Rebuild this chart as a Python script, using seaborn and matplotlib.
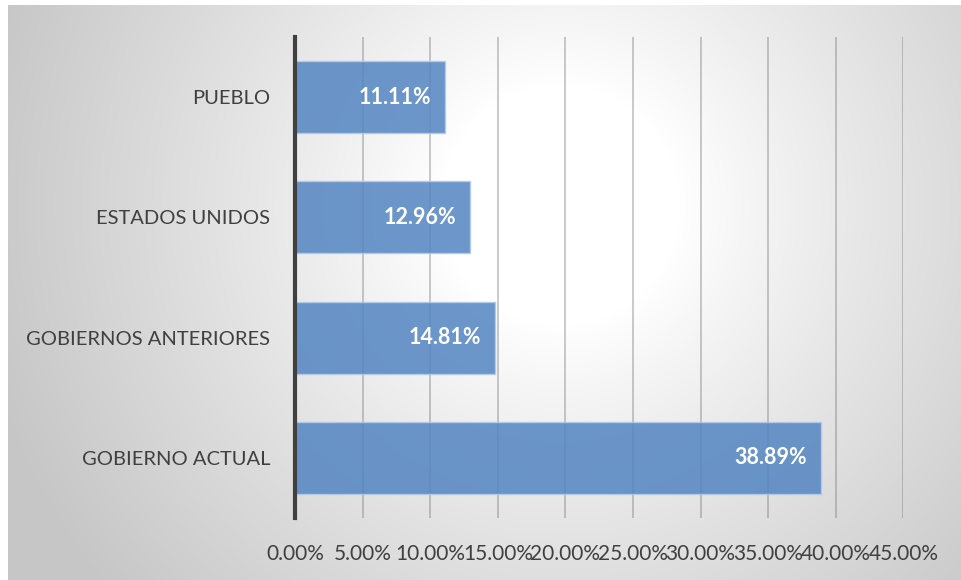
import numpy as np
import pandas as pd
import matplotlib
matplotlib.use("Agg")
import matplotlib.pyplot as plt
import seaborn as sns

# data
categories = ["PUEBLO", "ESTADOS UNIDOS", "GOBIERNOS ANTERIORES", "GOBIERNO ACTUAL"]
values = [0.1111, 0.1296, 0.1481, 0.3889]
tick_values = [0.0, 0.05, 0.10, 0.15, 0.20, 0.25, 0.30, 0.35, 0.40, 0.45]

df = pd.DataFrame({"cat": categories, "val": values})

sns.set_theme(style="white")
plt.rcParams["font.family"] = ["Lato", "DejaVu Sans"]

fig = plt.figure(figsize=(9.61, 5.8), dpi=100)

# radial gradient panel behind the chart (pixel grid of the panel)
bg = fig.add_axes([8 / 961, 0.0, 1 - 8 / 961, 575 / 580])
W, H = 953, 575
yy, xx = np.mgrid[0:H, 0:W]
cx, cy = 552, 200
r = np.sqrt((xx - cx) ** 2 + (yy - cy) ** 2)
t = np.clip((r - 120) / (590 - 120), 0, 1)
shade = 1.0 - 0.22 * t ** 0.9
img = np.dstack([shade, shade, shade])
bg.imshow(img, aspect="auto", extent=[0, 1, 0, 1], origin="upper", interpolation="bilinear")
bg.set_xlim(0, 1)
bg.set_ylim(0, 1)
bg.axis("off")

ax = fig.add_axes([0.307, 0.107, 0.633, 0.829])
ax.patch.set_alpha(0)
sns.barplot(data=df, x="val", y="cat", orient="h", color="#5385C2", alpha=0.85,
            saturation=1, width=0.6, edgecolor="#B4CBEA", linewidth=1, ax=ax, zorder=3)

ax.set_xlim(0, 0.45)
ax.set_xticks(tick_values)
ax.set_xticklabels([f"{t * 100:.2f}%" for t in tick_values], fontsize=15, color="#404040")
ax.tick_params(axis="y", labelsize=14.5, labelcolor="#404040", length=0, pad=18)
ax.tick_params(axis="x", length=0, pad=19)
ax.set_xlabel("")
ax.set_ylabel("")

ax.grid(axis="x", color="#707070", alpha=0.4, linewidth=1.3, zorder=0)
ax.set_axisbelow(True)
for s in ["top", "right", "bottom"]:
    ax.spines[s].set_visible(False)
ax.spines["left"].set_color("#404040")
ax.spines["left"].set_linewidth(3)
ax.spines["left"].set_zorder(5)

for i, v in enumerate(values):
    ax.text(v - 0.0105, i, f"{v * 100:.2f}%", ha="right", va="center",
            color="white", fontsize=15.5, fontweight="bold", zorder=6)

fig.savefig("out.png", dpi=100)
